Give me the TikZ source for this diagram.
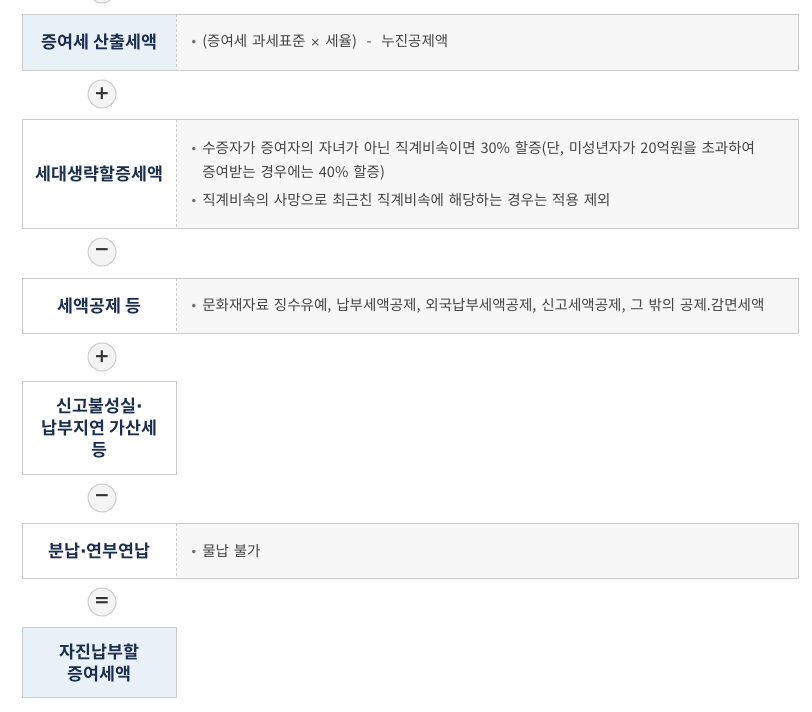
\documentclass[tikz,border=0pt]{standalone}
\usepackage{fontspec}
\setmainfont{Noto Sans CJK KR}[BoldFont={Noto Sans CJK KR Bold}]
\newfontfamily\symfont{DejaVu Sans}
\usepackage{tikz}

\definecolor{headblue}{HTML}{E8F0F8}
\definecolor{bodygray}{HTML}{F7F7F7}
\definecolor{linegray}{HTML}{CCCCCC}
\definecolor{navy}{HTML}{1D2F4E}
\definecolor{textgray}{HTML}{444444}
\definecolor{dotgray}{HTML}{6F6F6F}
\definecolor{opfill}{HTML}{F4F4F4}
\definecolor{opsign}{HTML}{333333}

\newcommand{\bul}{\noindent\hangindent=9pt\hangafter=1\makebox[9pt][l]{\textcolor{dotgray}{\symfont\fontsize{9}{9}\selectfont •}}}
\newcommand{\mdot}{{\symfont ·}}

\tikzset{
  labelbox/.style={anchor=north west, inner sep=0pt, minimum width=115.5pt, align=center,
    font=\bfseries\fontsize{13}{16.5}\selectfont, text=navy},
  infobox/.style={anchor=north west, inner xsep=10.5pt, inner ysep=0pt, text width=445.5pt,
    align=left, fill=bodygray, font=\fontsize{10.9}{18}\selectfont, text=textgray},
  opcircle/.style={circle, draw=linegray, line width=0.75pt, fill=opfill, minimum size=21pt,
    inner sep=0pt, text=opsign, font=\symfont\bfseries\fontsize{14}{14}\selectfont},
  rowline/.style={draw=linegray, line width=0.75pt},
  sepline/.style={draw=linegray, line width=0.75pt, dash pattern=on 2.25pt off 1.5pt}
}

\begin{document}
\begin{tikzpicture}[x=0.75pt, y=-0.75pt]
\clip (0,0) rectangle (812,711);

\node[labelbox, fill=headblue, minimum height=42pt] (l1) at (22,14) {증여세 산출세액};
\node[infobox, minimum height=42pt] (r1) at (176,14) {\bul (증여세 과세표준 {\symfont\fontsize{9}{9}\selectfont ×} 세율)\ \ -\ \ 누진공제액};

\node[labelbox, minimum height=81.75pt] (l2) at (22,119) {세대생략할증세액};
\node[infobox, minimum height=81.75pt] (r2) at (176,119)
  {\bul 수증자가 증여자의 자녀가 아닌 직계비속이면 30\% 할증(단, 미성년자가 20억원을 초과하여\newline
   증여받는 경우에는 40\% 할증)\par\vspace{3pt}
   \bul 직계비속의 사망으로 최근친 직계비속에 해당하는 경우는 적용 제외};

\node[labelbox, minimum height=41.25pt] (l3) at (22,278) {세액공제 등};
\node[infobox, minimum height=41.25pt] (r3) at (176,278)
  {\bul 문화재자료 징수유예, 납부세액공제, 외국납부세액공제, 신고세액공제, 그 밖의 공제.감면세액};

\node[labelbox, rowline, minimum height=69.75pt] (l4) at (22,381) {신고불성실\mdot\\납부지연 가산세\\등};

\node[labelbox, minimum height=41.25pt] (l5) at (22,523) {분납\mdot 연부연납};
\node[infobox, minimum height=41.25pt] (r5) at (176,523) {\bul 물납 불가};

\node[labelbox, rowline, fill=headblue, minimum height=52.5pt] (l6) at (22,627) {자진납부할\\증여세액};

% rows with a detail column
\foreach \r in {1,2,3,5}
{
\draw[rowline] (l\r.north west) rectangle (r\r.south east);
\draw[sepline] (r\r.north west) -- (r\r.south west);
}

% operators between the rows
\node[opcircle] (o0) at (102,-11) {};
\node[opcircle] (o1) at (102,94) {+};
\node[opcircle] (o2) at (102,252) {−};
\node[opcircle] (o3) at (102,357) {+};
\node[opcircle] (o4) at (102,498) {−};
\node[opcircle] (o5) at (102,602) {=};
\end{tikzpicture}
\end{document}
